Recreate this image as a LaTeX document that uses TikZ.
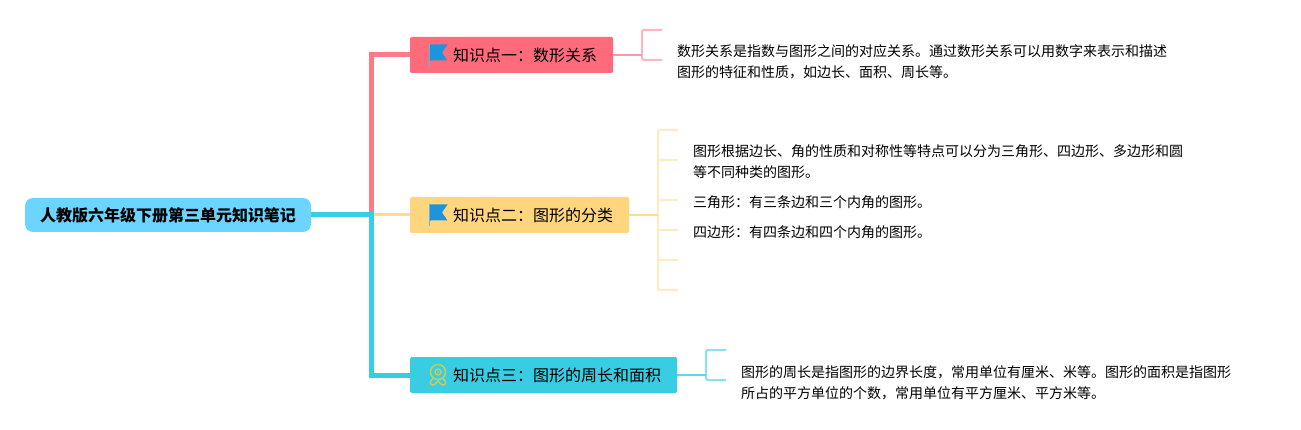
\documentclass[tikz,border=0pt]{standalone}
\usepackage{fontspec}
\setmainfont{Noto Sans CJK SC}
\definecolor{rootblue}{HTML}{6BD5FF}
\definecolor{redbox}{HTML}{FF6B7B}
\definecolor{yellowbox}{HTML}{FFD67D}
\definecolor{cyanbox}{HTML}{38CDE2}
\definecolor{flagblue}{HTML}{1B95DE}
\definecolor{medalgold}{HTML}{C9CC5A}
\tikzset{
	rootnode/.style={fill=rootblue, rounded corners=8pt, inner xsep=15pt, inner ysep=0pt, minimum height=34pt, font=\fontsize{16pt}{20pt}\selectfont\bfseries},
	branchnode/.style={anchor=west, rounded corners=1.5pt, inner xsep=16pt, inner ysep=0pt, minimum height=36pt, font=\fontsize{16pt}{20pt}\selectfont},
	notenode/.style={anchor=west, align=left, inner sep=0pt, font=\fontsize{14pt}{21pt}\selectfont},
	trunk/.style={line width=5pt},
	twig/.style={line width=2pt, rounded corners=2pt},
	flagicon/.pic={
		\fill[flagblue] (0,-10.5) -- (18.5,-10.5) -- (13,-2.5) -- (18.5,5.5) -- (1.5,5.5) -- (0,7) -- cycle;
		\draw[flagblue!70, line width=1pt] (0.4,-10.5) -- (0.4,11);
	},
	medalicon/.pic={
		\draw[medalgold, line width=1.5pt] (0,-3) circle (7.5);
		\draw[medalgold, line width=1.3pt] (0,-3) circle (3);
		\fill[medalgold] (0,-3) circle (1);
		\draw[medalgold, line width=1.5pt] (-5,3.5) .. controls (-9,7) and (-8,10) .. (-5,10) .. controls (-3,10) and (-2,8) .. (0,6) .. controls (2,8) and (3,10) .. (5,10) .. controls (8,10) and (9,7) .. (5,3.5);
	}
}
\begin{document}
\begin{tikzpicture}[x=1pt, y=-1pt, line cap=butt]
	\useasboundingbox (0,0) rectangle (1301,430);
	\node[rootnode] (root) at (168,215) {人教版六年级下册第三单元知识笔记};
	\node[branchnode, fill=redbox] (one) at (410,55) {\hspace*{27pt}知识点一：数形关系};
	\node[branchnode, fill=yellowbox] (two) at (410,215) {\hspace*{27pt}知识点二：图形的分类};
	\node[branchnode, fill=cyanbox] (three) at (410,375) {\hspace*{27pt}知识点三：图形的周长和面积};
	\pic at (429,55) {flagicon};
	\pic at (429,215) {flagicon};
	\pic at (438,375) {medalicon};
	% trunk lines
	\coordinate (fork) at (371.5,215);
	\draw[trunk, redbox!90] (fork) |- (one.west);
	\draw[line width=3pt, yellowbox!85] (fork) -- (two.west);
	\draw[trunk, cyanbox] (root.east) -- (fork) |- (three.west);
	% notes
	\node[notenode] (noteone) at (677,61.5) {数形关系是指数与图形之间的对应关系。通过数形关系可以用数字来表示和描述\\图形的特征和性质，如边长、面积、周长等。};
	\node[notenode] (notetwoa) at (693,162) {图形根据边长、角的性质和对称性等特点可以分为三角形、四边形、多边形和圆\\等不同种类的图形。};
	\node[notenode] (notetwob) at (693,202) {三角形：有三条边和三个内角的图形。};
	\node[notenode] (notetwoc) at (693,232) {四边形：有四条边和四个内角的图形。};
	\node[notenode] (notethree) at (741,382.5) {图形的周长是指图形的边界长度，常用单位有厘米、米等。图形的面积是指图形\\所占的平方单位的个数，常用单位有平方厘米、平方米等。};
	% twigs
	\coordinate (onetop) at (662,30);
	\coordinate (onebot) at (662,60);
	\draw[twig, redbox!50] (onetop) -| (642,60) -- (onebot);
	\draw[twig, redbox!70, rounded corners=0pt] (one.east) -- (642,55);
	\draw[twig, yellowbox!50] (678,130) -| (658,290) -- (678,290);
	\foreach \tipy in {160,200,230,260} {
		\coordinate (tip\tipy) at (678,\tipy);
		\draw[twig, yellowbox!50, rounded corners=0pt] (658,\tipy) -- (tip\tipy);
	}
	\draw[twig, yellowbox!85, rounded corners=0pt] (two.east) -- (658,215);
	\coordinate (threetop) at (726,350);
	\coordinate (threebot) at (726,380);
	\draw[twig, cyanbox!60] (threetop) -| (706,380) -- (threebot);
	\draw[twig, cyanbox!80, rounded corners=0pt] (three.east) -- (706,375);
\end{tikzpicture}
\end{document}
